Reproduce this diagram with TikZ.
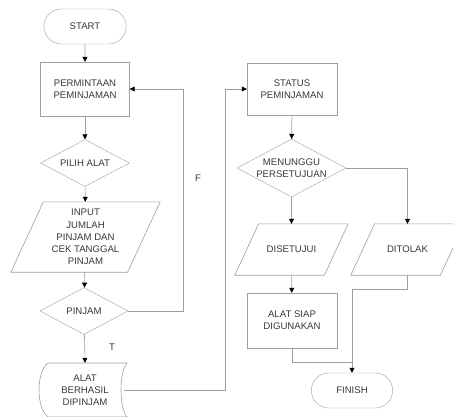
\documentclass[tikz,border=0pt]{standalone}
\usepackage{fontspec}
\setmainfont{Liberation Sans}
\usepackage{xcolor}
\usepackage{tikz}
\usetikzlibrary{arrows.meta,positioning,calc,shapes.geometric,shapes.misc}
\definecolor{linegray}{gray}{0.62}
\definecolor{textgray}{gray}{0.22}

\begin{document}
\begin{tikzpicture}[
    x=1pt, y=-1pt,
    every node/.style={font=\fontsize{9.6}{12.2}\selectfont, text=textgray, align=center},
    box/.style={rectangle, draw=linegray, minimum width=89pt, minimum height=54pt},
    term/.style={rounded rectangle, draw=linegray, minimum width=89pt, minimum height=35pt},
    decision/.style={diamond, draw=linegray, inner sep=0pt, aspect=1.9},
    io/.style={rectangle, inner sep=0pt},
    line/.style={draw=linegray, line width=0.6pt},
    arrow/.style={line, -{Triangle[length=5pt,width=5pt,color=black]}}
]
\useasboundingbox (0,0) rectangle (453,416);

% left column
\node[term] (start) at (85,26.5) {START};
\node[box] (minta) at (85,89) {PERMINTAAN\\PEMINJAMAN};
\node[decision, minimum width=89pt, minimum height=47pt] (pilih) at (85,163) {PILIH ALAT};
\node[io, minimum width=149pt, minimum height=70pt] (input) at (85.5,237) {INPUT\\JUMLAH\\PINJAM DAN\\CEK TANGGAL\\PINJAM};
\node[decision, minimum width=88pt, minimum height=47pt] (pinjam) at (84,311) {PINJAM};
\node[minimum width=78pt, minimum height=54pt, inner sep=0pt] (berhasil) at (85,390) {ALAT\\BERHASIL\\DIPINJAM};
\draw[line] (48,363) -- (127,363) .. controls (119,372) and (119,408) .. (127,417)
    -- (48,417) .. controls (36,408) and (36,372) .. (48,363);

% right column
\node[box, minimum width=90pt, minimum height=52pt] (status) at (292,89) {STATUS\\PEMINJAMAN};
\node[decision, minimum width=109pt, minimum height=58pt] (tunggu) at (291.5,168) {MENUNGGU\\PERSETUJUAN};
\node[io, minimum width=113pt, minimum height=51pt] (setuju) at (291.5,249.5) {DISETUJUI};
\node[io, minimum width=113pt, minimum height=51pt] (tolak) at (407.5,249.5) {DITOLAK};
\node[box, minimum width=90pt, minimum height=55pt] (siap) at (292,320.5) {ALAT SIAP\\DIGUNAKAN};
\node[term, minimum width=88pt] (finish) at (352,390.5) {FINISH};

% parallelogram outlines
\foreach \n/\s in {input/32.6, setuju/23.8, tolak/23.8}
    \draw[line] ($(\n.north west)+(\s,0)$) -- (\n.north east)
        -- ($(\n.south east)-(\s,0)$) -- (\n.south west) -- cycle;

\coordinate (floop) at (183,89);
\coordinate (sloop) at (225,89);
\coordinate (jt) at (352,289);
\coordinate (jn) at (352,362);

\draw[arrow] (start) -- (minta);
\draw[arrow] (minta) -- (pilih);
\draw[arrow] (pilih) -- (input);
\draw[arrow] (input) -- (pinjam);
\draw[arrow] (pinjam) -- (berhasil.north);
\draw[arrow] (pinjam.east) -| (floop) -- (minta.east);
\draw[arrow] (berhasil.east) -| (sloop) -- (status.west);
\draw[arrow] (status) -- (tunggu);
\draw[arrow] (tunggu) -- (setuju);
\draw[arrow] (tunggu.east) -| (tolak.north);
\draw[arrow] (setuju) -- (siap);
\draw[line] (siap.south) |- (jn);
\draw[arrow] (tolak.south) |- (jt) -- (finish.north);

\node at (198,178) {F};
\node at (112,347) {T};
\end{tikzpicture}
\end{document}
